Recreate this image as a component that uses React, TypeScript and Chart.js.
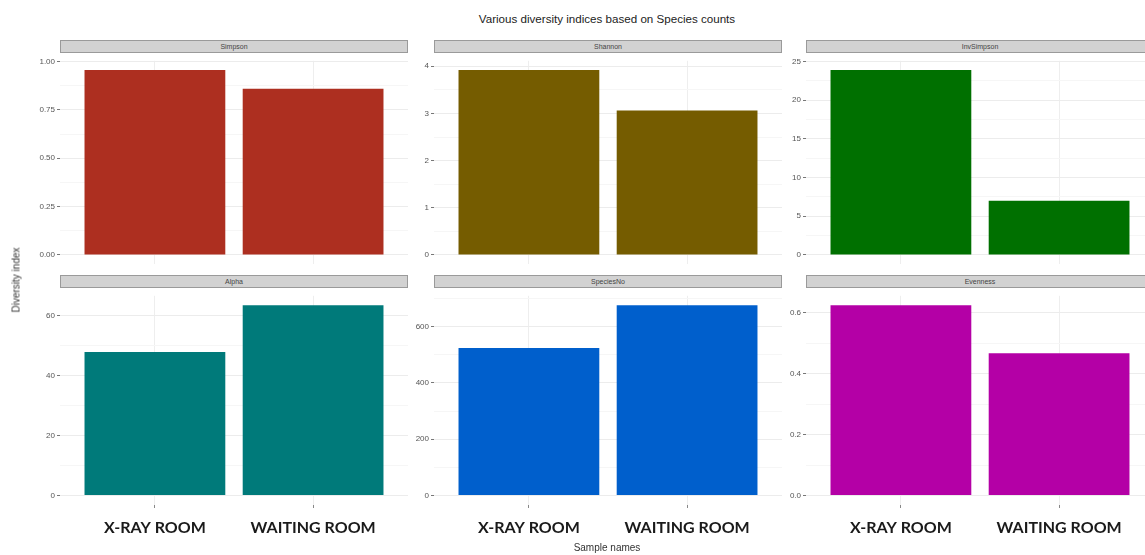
import React, { useEffect, useRef } from 'react';
import { Chart, registerables } from 'chart.js';
Chart.register(...registerables);

// ---------- data ----------
const categories = ['X-RAY ROOM', 'WAITING ROOM'];
const simpsonValues = [0.956, 0.859];
const shannonValues = [3.92, 3.06];
const invSimpsonValues = [23.9, 7.0];
const alphaValues = [47.8, 63.4];
const speciesNoValues = [524, 676];
const evennessValues = [0.624, 0.467];

const simpsonTicks = [0, 0.25, 0.5, 0.75, 1.0];
const shannonTicks = [0, 1, 2, 3, 4];
const invSimpsonTicks = [0, 5, 10, 15, 20, 25];
const alphaTicks = [0, 20, 40, 60];
const speciesNoTicks = [0, 200, 400, 600];
const evennessTicks = [0, 0.2, 0.4, 0.6];

const title = 'Various diversity indices based on Species counts';
const yTitle = 'Diversity index';
const xTitle = 'Sample names';

// ---------- layout ----------
const AX = 50; // y-axis gutter width
const XH = 40; // x label band height (bottom row)
const colLefts = [60, 434, 806];
const plotW = 348;
const rowTops = [54, 289];
const plotHs = [217, 216];

type PanelProps = {
  name: string;
  values: number[];
  ticks: number[];
  digits: number;
  color: string;
  col: number;
  row: number;
};

function Panel({ name, values, ticks, digits, color, col, row }: PanelProps) {
  const ref = useRef<HTMLCanvasElement>(null);
  const showX = row === 1;
  const left = colLefts[col];
  const top = rowTops[row];
  const h = plotHs[row];
  const cw = AX + plotW;
  const ch = h + (showX ? XH : 0);

  useEffect(() => {
    if (!ref.current) return;
    const M = Math.max(...values);
    const yMin = -0.05 * M;
    const yMax = 1.05 * M;
    const step = ticks[1] - ticks[0];
    const all: { v: number; major: boolean }[] = [];
    const cand = [...ticks, ticks[ticks.length - 1] + step];
    cand.forEach((t, i) => {
      if (t >= yMin && t <= yMax) all.push({ v: t, major: i < ticks.length });
      const mid = t + step / 2;
      if (mid >= yMin && mid <= yMax) all.push({ v: mid, major: false });
    });
    const majorSet = new Set(ticks.map((t) => t.toFixed(6)));
    const isMajor = (v: number) => majorSet.has(v.toFixed(6));

    const chart = new Chart(ref.current, {
      type: 'bar',
      data: {
        datasets: [
          {
            data: values.map((v, i) => ({ x: i, y: v })),
            backgroundColor: color,
            borderWidth: 0,
            barPercentage: 0.89,
            categoryPercentage: 1,
          } as any,
        ],
      },
      options: {
        animation: false,
        responsive: false,
        maintainAspectRatio: false,
        layout: { padding: 0 },
        plugins: { legend: { display: false }, tooltip: { enabled: false } },
        scales: {
          x: {
            type: 'linear',
            min: -0.6,
            max: 1.6,
            offset: false,
            afterBuildTicks: (axis: any) => {
              axis.ticks = categories.map((_, i) => ({ value: i }));
            },
            afterFit: (axis: any) => {
              axis.height = showX ? XH : 0;
            },
            border: { display: false },
            grid: {
              offset: false,
              color: '#eeeeee',
              tickColor: '#888888',
              tickLength: 3,
              drawTicks: showX,
            },
            ticks: {
              display: showX,
              padding: 10,
              maxRotation: 0,
              autoSkip: false,
              color: '#1a1a1a',
              font: { family: 'Lato', weight: 'bold', size: 16 },
              callback: (v: any) => categories[v as number] ?? '',
            },
          },
          y: {
            type: 'linear',
            min: yMin,
            max: yMax,
            afterBuildTicks: (axis: any) => {
              axis.ticks = all.map((t) => ({ value: t.v }));
            },
            afterFit: (axis: any) => {
              axis.width = AX;
            },
            border: { display: false },
            grid: {
              color: (ctx: any) =>
                ctx.tick && isMajor(ctx.tick.value) ? '#ececec' : '#f6f6f6',
              tickColor: (ctx: any) =>
                ctx.tick && isMajor(ctx.tick.value) ? '#777777' : 'rgba(0,0,0,0)',
              tickLength: 3,
            },
            ticks: {
              padding: 2,
              autoSkip: false,
              color: '#555555',
              font: { family: 'Liberation Sans', size: 8 },
              callback: (v: any) =>
                isMajor(v as number) ? (v as number).toFixed(digits) : '',
            },
          },
        },
      } as any,
    });
    return () => chart.destroy();
  }, []);

  return (
    <>
      <div
        style={{
          position: 'absolute',
          left: left,
          top: top - 14,
          width: plotW,
          height: 13,
          boxSizing: 'border-box',
          background: '#d2d2d2',
          border: '1px solid #9a9a9a',
          fontFamily: 'Liberation Sans, Arial, sans-serif',
          fontSize: 7,
          color: '#444',
          textAlign: 'center',
          lineHeight: '11px',
        }}
      >
        {name}
      </div>
      <canvas
        ref={ref}
        width={cw}
        height={ch}
        style={{ position: 'absolute', left: left - AX, top: top, width: cw, height: ch }}
      />
    </>
  );
}

export default function App() {
  return (
    <div
      style={{
        position: 'fixed',
        left: 0,
        top: 0,
        width: 1145,
        height: 555,
        overflow: 'hidden',
        background: '#ffffff',
        fontFamily: 'Liberation Sans, Arial, sans-serif',
      }}
    >
      <div
        style={{
          position: 'absolute',
          left: 60,
          width: 1094,
          top: 12,
          textAlign: 'center',
          fontSize: 11.6,
          color: '#222',
          lineHeight: '14px',
        }}
      >
        {title}
      </div>
      <Panel name="Simpson" values={simpsonValues} ticks={simpsonTicks} digits={2} color="#ad2f20" col={0} row={0} />
      <Panel name="Shannon" values={shannonValues} ticks={shannonTicks} digits={0} color="#755c00" col={1} row={0} />
      <Panel name="InvSimpson" values={invSimpsonValues} ticks={invSimpsonTicks} digits={0} color="#007000" col={2} row={0} />
      <Panel name="Alpha" values={alphaValues} ticks={alphaTicks} digits={0} color="#007a7a" col={0} row={1} />
      <Panel name="SpeciesNo" values={speciesNoValues} ticks={speciesNoTicks} digits={0} color="#005fcc" col={1} row={1} />
      <Panel name="Evenness" values={evennessValues} ticks={evennessTicks} digits={1} color="#b400a6" col={2} row={1} />
      <div
        style={{
          position: 'absolute',
          left: 9,
          top: 280,
          transform: 'translate(-50%, -50%) rotate(-90deg)',
          transformOrigin: 'center',
          fontSize: 10,
          color: '#333',
          whiteSpace: 'nowrap',
          marginLeft: 7,
        }}
      >
        {yTitle}
      </div>
      <div
        style={{
          position: 'absolute',
          left: 60,
          width: 1094,
          top: 542,
          textAlign: 'center',
          fontSize: 10,
          color: '#333',
          lineHeight: '12px',
        }}
      >
        {xTitle}
      </div>
    </div>
  );
}
